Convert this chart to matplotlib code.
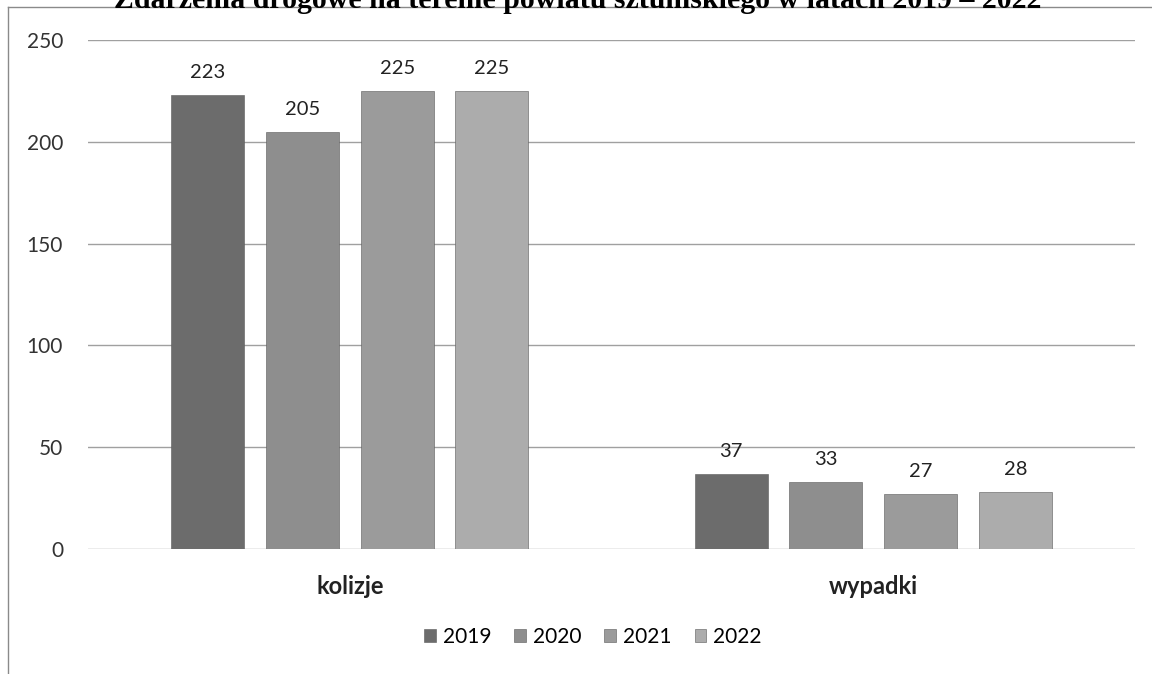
import matplotlib
matplotlib.use("Agg")
import matplotlib.pyplot as plt
import numpy as np
from matplotlib.lines import Line2D

categories = ["kolizje", "wypadki"]
years = ["2019", "2020", "2021", "2022"]
values = {
    "2019": [223, 37],
    "2020": [205, 33],
    "2021": [225, 27],
    "2022": [225, 28],
}
colors = ["#6c6c6c", "#8e8e8e", "#9b9b9b", "#acacac"]
yticks = [0, 50, 100, 150, 200, 250]
title = "Zdarzenia drogowe na terenie powiatu sztumskiego w latach 2019 – 2022"

W, H = 1152, 674
fig = plt.figure(figsize=(W / 100, H / 100), dpi=100)
ax = fig.add_axes([88 / W, 1 - 549 / H, (1135 - 88) / W, (549 - 40) / H])

font = "Lato"
x = np.arange(len(categories))
width = 0.139
step = 0.181
for i, (yr, c) in enumerate(zip(years, colors)):
    pos = x + (i - 1.5) * step
    bars = ax.bar(pos, values[yr], width, color=c, edgecolor="#5a5a5a", linewidth=0.4, label=yr, zorder=3)
    for b, v in zip(bars, values[yr]):
        ax.annotate(str(v), (b.get_x() + b.get_width() / 2, v), xytext=(0, 10),
                    textcoords="offset points", ha="center", va="bottom",
                    fontsize=14.5, family=font, color="#222222")

ax.set_xlim(-0.5, 1.5)
ax.set_ylim(0, 250)
ax.set_yticks(yticks)
ax.set_yticklabels([str(t) for t in yticks], family=font, fontsize=15, color="#333333")
ax.set_xticks(x)
ax.set_xticklabels(categories, family=font, fontsize=17, fontweight="bold", color="#222222")
ax.tick_params(axis="y", length=0, pad=18)
ax.tick_params(axis="x", length=0, pad=19)
ax.grid(axis="y", color="#a0a0a0", linewidth=1.0, zorder=0)
for s in ax.spines.values():
    s.set_visible(False)

leg = fig.legend(loc="center", bbox_to_anchor=(593 / W, 1 - 637 / H), ncol=4, frameon=False,
                 prop={"family": font, "size": 15}, handlelength=0.55, handleheight=0.55,
                 columnspacing=1.1, handletextpad=0.35)

fig.text(578 / W, 1 - 8 / H, title, ha="center", va="baseline", family="Liberation Serif",
         fontweight="bold", fontsize=21.5)

fig.add_artist(Line2D([8 / W, 1], [1 - 7 / H, 1 - 7 / H], color="#8a8a8a", linewidth=1))
fig.add_artist(Line2D([8 / W, 8 / W], [0, 1 - 7 / H], color="#8a8a8a", linewidth=1))

fig.savefig("out.png", dpi=100)
